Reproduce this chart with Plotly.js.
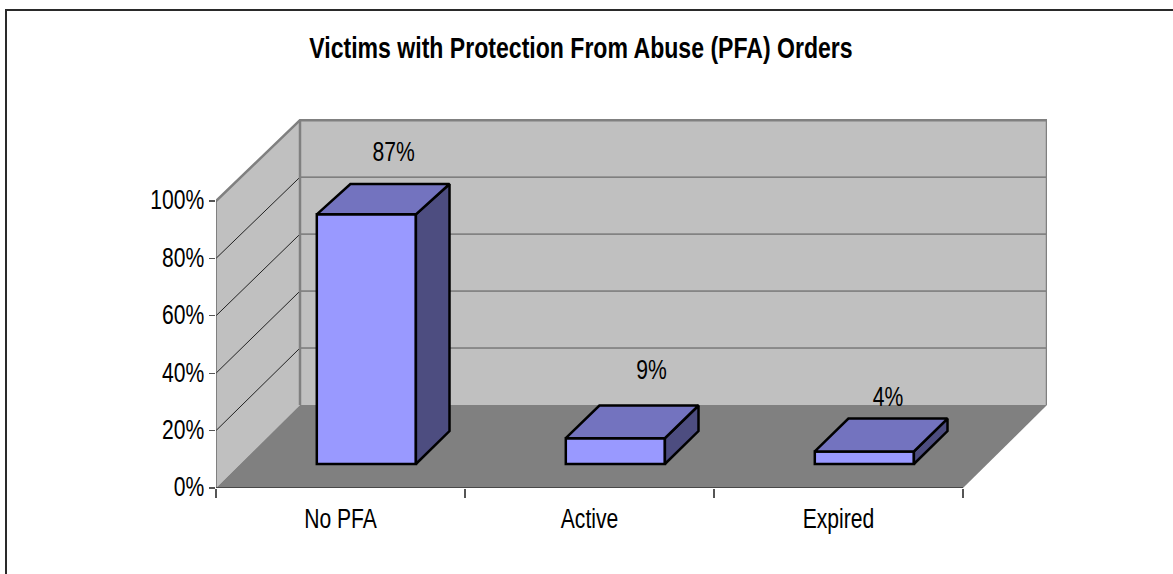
<!DOCTYPE html>
<html><head><meta charset="utf-8">
<script src="https://cdn.plot.ly/plotly-3.0.1.min.js"></script>
<style>html,body{margin:0;padding:0;background:#fff;overflow:hidden}#c{width:1173px;height:574px}</style>
</head><body><div id="c"></div>
<script>
const categories = ['No PFA','Active','Expired'];
const values = [87, 9, 4.4];
const yTicks = [0,20,40,60,80,100];

// Pseudo-3D projection, in axis units
const W = 1173, H = 574, L = 216, R = 1047, T = 119, B = 488;
const DEPTH_X = 84/249, DEPTH_Y = 83/2.87, PERSP = 0.0075;
const FRONT_X = 0.1038, FRONT_Y = 8.36, BAR_DEPTH = 0.4, BAR_W = 0.398, BAR_PERSP = 0.0105;
const P = (x,y,d) => [x + d*DEPTH_X, y*(1-PERSP*d) + d*DEPTH_Y];
const path = pts => 'M' + pts.map(p => p[0]+' '+p[1]).join('L');
const nCat = categories.length;
const pxX = v => (v-L)/(R-L), pxY = v => (B-v)/(B-T);

const shapes = [];
const addPoly = (pts, fill, lc, lw, close=true) => shapes.push({type:'path', xref:'x', yref:'y', layer:'below',
  path: path(pts)+(close?'Z':''), fillcolor: fill, line:{color:lc, width:lw}});
addPoly([P(0,0,1),P(0,100,1),P(nCat,100,1),P(nCat,0,1)], '#C0C0C0', 'rgba(0,0,0,0)', 0);
addPoly([P(0,0,0),P(0,100,0),P(0,100,1),P(0,0,1)], '#C0C0C0', 'rgba(0,0,0,0)', 0);
addPoly([P(0,0,0),P(nCat,0,0),P(nCat,0,1),P(0,0,1)], '#808080', 'rgba(0,0,0,0)', 0);
yTicks.slice(1,-1).forEach(v => {
  addPoly([P(0,v,0),P(0,v,1)], 'rgba(0,0,0,0)', '#222', 1, false);
  addPoly([P(0,v,1),P(nCat,v,1)], 'rgba(0,0,0,0)', '#555', 1, false);
});
addPoly([P(0,100,0),P(0,100,1),P(nCat,100,1),P(nCat,0,1)], 'rgba(0,0,0,0)', '#808080', 2.5, false);
addPoly([P(0,0,1),P(0,100,1)], 'rgba(0,0,0,0)', '#808080', 2.5, false);
addPoly([P(0,0,0),P(0,100,0)], 'rgba(0,0,0,0)', '#555', 1.2, false);
addPoly([P(0,0,0),P(nCat,0,0)], 'rgba(0,0,0,0)', '#111', 1.2, false);
shapes.push({type:'path', xref:'paper', yref:'paper', layer:'below',
  path:`M${pxX(6)} ${pxY(H+5)}L${pxX(6)} ${pxY(10)}L${pxX(W+5)} ${pxY(10)}`,
  line:{color:'#2a2a2a', width:2}});

const xFront = categories.map((_,i) => i + 0.5 + FRONT_X);
const baseY = FRONT_Y;

const traces = [{
  type:'bar', x:xFront, y:values, base:values.map(()=>baseY), width:BAR_W,
  marker:{color:'#9999FF', line:{color:'#000', width:2.5}}, hoverinfo:'skip', showlegend:false
}];
const face = (pts, color) => ({type:'scatter', mode:'lines', x:pts.map(p=>p[0]), y:pts.map(p=>p[1]),
  fill:'toself', fillcolor:color, line:{color:'#000', width:2.5}, hoverinfo:'skip', showlegend:false});
values.forEach((v,i) => {
  const a = xFront[i]-BAR_W/2, b = xFront[i]+BAR_W/2, y0 = baseY, y1 = baseY+v;
  const off = (x,y,d) => [x + d*DEPTH_X, y*(1-BAR_PERSP*(d>0?1:0)) + d*DEPTH_Y];
  traces.push(face([off(b,y0,0),off(b,y1,0),off(b,y1,BAR_DEPTH),off(b,y0,BAR_DEPTH),off(b,y0,0)], '#4D4D80'));
  traces.push(face([off(a,y1,0),off(b,y1,0),off(b,y1,BAR_DEPTH),off(a,y1,BAR_DEPTH),off(a,y1,0)], '#7373BF'));
});
const labelShiftX = [0.11, 0.145, 0.095], labelShiftY = [20.6, 22.6, 17.8];
traces.push({type:'scatter', mode:'text', x:xFront.map((x,i)=>x+labelShiftX[i]),
  y:values.map((v,i)=>baseY+v+labelShiftY[i]), text:values.map(v=>Math.round(v)+'%'),
  textposition:'middle center', cliponaxis:false,
  textfont:{family:'"Liberation Sans",Arial,sans-serif', size:24, color:'#000'},
  hoverinfo:'skip', showlegend:false});

const font = {family:'"Liberation Sans",Arial,sans-serif', size:24, color:'#000'};
Plotly.newPlot('c', traces, {
  width:W, height:H, autosize:false, paper_bgcolor:'#fff', plot_bgcolor:'rgba(0,0,0,0)',
  margin:{l:L, r:W-R, t:T, b:H-B, pad:0}, font, barmode:'overlay', showlegend:false,
  title:{text:'<b>Victims with Protection From Abuse (PFA) Orders</b>', xref:'container', yref:'container',
    x:581/W, xanchor:'center', y:1-47.5/H, yanchor:'middle', font:{...font, size:25}},
  xaxis:{range:[0,(R-L)/249], tickmode:'array', tickvals:categories.map((_,i)=>i+0.5), ticktext:categories,
    ticks:'', ticklabelstandoff:15, showgrid:false, zeroline:false, showline:false, tickfont:font,
    minor:{tickmode:'array', tickvals:categories.map((_,i)=>i).concat(nCat), ticks:'outside', ticklen:9, tickcolor:'#555', tickwidth:1.2, showgrid:false}},
  yaxis:{range:[0,(B-T)/2.87], tickmode:'array', tickvals:yTicks, ticktext:yTicks.map(v=>v+'%'),
    ticks:'outside', ticklen:6, tickwidth:1.2, tickcolor:'#555', showgrid:false, zeroline:false, showline:false, tickfont:font},
  shapes
}, {displayModeBar:false, staticPlot:true}).then(gd => {
  // The reference's text is squeezed horizontally and stretched vertically.
  const squeeze = (el, sx, sy) => {
    const x = el.getAttribute('x')||0, y = el.getAttribute('y')||0, t = el.getAttribute('transform')||'';
    el.setAttribute('transform', `${t} translate(${x} ${y}) scale(${sx} ${sy}) translate(${-x} ${-y})`);
  };
  gd.querySelectorAll('.xtick text, .ytick text, .scatterlayer text').forEach(el => squeeze(el, 0.88, 1.18));
  gd.querySelectorAll('.gtitle').forEach(el => squeeze(el, 0.923, 1.18));
});
</script></body></html>
